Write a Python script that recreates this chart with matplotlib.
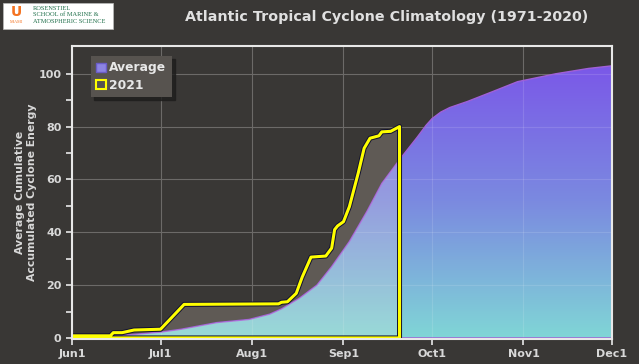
import numpy as np
import pandas as pd
import matplotlib
matplotlib.use("Agg")
import matplotlib.pyplot as plt
import matplotlib.dates as mdates
import matplotlib.patheffects as pe
from matplotlib.patches import Polygon, Patch, Rectangle
from matplotlib.colors import LinearSegmentedColormap

# Climatological average cumulative ACE (1971-2020)
avg_dates = ['06-01', '06-14', '07-01', '07-08', '07-20', '07-31', '08-07', '08-11',
             '08-17', '08-23', '08-28', '09-03', '09-09', '09-14', '09-20', '09-26',
             '09-29', '10-01', '10-04', '10-07', '10-13', '10-21', '10-30', '11-12',
             '11-23', '12-01']
avg_ace = [0.3, 0.6, 2.2, 3.3, 5.8, 7.0, 9.0, 11.0,
           15.0, 20.0, 27.0, 36.5, 48.0, 58.5, 67.5, 76.0,
           80.5, 83.0, 85.5, 87.2, 89.5, 93.0, 97.0, 100.0,
           102.0, 103.0]

# 2021 cumulative ACE
y21_dates = ['06-01', '06-14', '06-15', '06-18', '06-22', '07-01', '07-04', '07-09',
             '08-10', '08-11', '08-13', '08-16', '08-18', '08-21', '08-26', '08-28',
             '08-29', '08-30', '09-01', '09-03', '09-06', '09-08', '09-10', '09-13',
             '09-14', '09-17', '09-20']
y21_ace = [0.8, 0.8, 2.0, 2.0, 3.0, 3.3, 6.8, 12.7,
           12.9, 13.5, 13.7, 16.9, 23.0, 30.6, 31.0, 34.0,
           41.0, 42.4, 44.0, 49.7, 62.4, 71.8, 75.6, 76.5,
           78.0, 78.2, 80.0]

tick_dates = ['06-01', '07-01', '08-01', '09-01', '10-01', '11-01', '12-01']
tick_labels = ['Jun1', 'Jul1', 'Aug1', 'Sep1', 'Oct1', 'Nov1', 'Dec1']


def to_num(days):
    return mdates.date2num(pd.to_datetime(['2021-' + d for d in days]))


ax_x = to_num(avg_dates)
y21_x = to_num(y21_dates)
ticks_x = to_num(tick_dates)

bg = '#393735'
fig = plt.figure(figsize=(6.39, 3.64), dpi=100, facecolor=bg)
ax = fig.add_axes([72 / 639, 1 - 339 / 364, 540 / 639, 293 / 364])
ax.set_facecolor(bg)
ax.set_xlim(ticks_x[0], ticks_x[-1])
ax.set_ylim(-0.4, 110.5)

# grid below everything
ax.set_axisbelow(True)
ax.grid(True, color='#6c6a68', linewidth=0.8)

# polygons
avg_poly = np.column_stack([np.r_[ax_x, ax_x[-1], ax_x[0]], np.r_[avg_ace, 0, 0]])
y21_poly = np.column_stack([np.r_[y21_x, y21_x[-1], y21_x[0]], np.r_[y21_ace, 0, 0]])

# 2021 grey fill
ax.add_patch(Polygon(y21_poly, closed=True, facecolor='#5f5a55', edgecolor='none', zorder=1))

# average gradient area
avg_patch = Polygon(avg_poly, closed=True, facecolor='none', edgecolor='#a060d8',
                    linewidth=1.0, zorder=2.1)
ax.add_patch(avg_patch)
cmap = LinearSegmentedColormap.from_list('ace', ['#80d6d6', '#7b8ae0', '#7a58e8'])
grad = np.linspace(0, 1, 256).reshape(-1, 1)
im = ax.imshow(grad, cmap=cmap, origin='lower', aspect='auto',
               extent=[ticks_x[0], ticks_x[-1], 0, 103], zorder=2)
im.set_clip_path(avg_patch)

# faint grid lines over the average area
for yv in range(20, 101, 20):
    l = ax.axhline(yv, color='white', alpha=0.12, linewidth=0.8, zorder=2.05)
    l.set_clip_path(avg_patch)
for xv in ticks_x[1:-1]:
    l = ax.axvline(xv, color='white', alpha=0.12, linewidth=0.8, zorder=2.05)
    l.set_clip_path(avg_patch)

# light overlay where 2021 covers the average
ov = Polygon(y21_poly, closed=True, facecolor='#ffeedd', alpha=0.2, edgecolor='none', zorder=2.2)
ax.add_patch(ov)
ov.set_clip_path(avg_patch)

# 2021 outline
ax.plot(y21_poly[:, 0], y21_poly[:, 1], color='#ffff00', linewidth=2.2, zorder=3,
        solid_joinstyle='round',
        path_effects=[pe.Stroke(linewidth=3.6, foreground='#101030'), pe.Normal()])

# axes styling
for s in ax.spines.values():
    s.set_color('#e8e8e8')
    s.set_linewidth(1.5)
    s.set_zorder(4)
ax.set_xticks(ticks_x)
ax.set_xticklabels(tick_labels)
ax.set_yticks(range(0, 101, 20))
ax.set_yticks(range(10, 101, 20), minor=True)
ax.tick_params(axis='both', colors='#e8e8e8', labelcolor='#d8d8d8', labelsize=8,
               length=4, width=1.2)
ax.tick_params(axis='y', which='minor', colors='#e8e8e8', length=4, width=1.2)
for lab in ax.get_xticklabels() + ax.get_yticklabels():
    lab.set_fontweight('bold')
ax.set_ylabel('Average Cumulative\nAccumulated Cyclone Energy', color='#d8d8d8',
              fontsize=7.8, fontweight='bold', labelpad=1, linespacing=1.25)

# legend
handles = [Patch(facecolor='#8c84e4', edgecolor='#6a5cc8', label='Average'),
           Patch(facecolor='#555350', edgecolor='#ffff00', linewidth=1.5, label='2021')]
leg = ax.legend(handles=handles, loc='upper left', bbox_to_anchor=(0.035, 0.966),
                borderaxespad=0,
                facecolor='#57534f', edgecolor='none', framealpha=1, fancybox=False,
                shadow={'color': '#1e1d1c', 'alpha': 0.8}, fontsize=8.8,
                handlelength=0.75, handleheight=0.75, handletextpad=0.3,
                borderpad=0.45, labelspacing=0.35)
for t in leg.get_texts():
    t.set_color('#e8e8e8')
    t.set_fontweight('bold')

# title
fig.text(387 / 639, 1 - 17 / 364, 'Atlantic Tropical Cyclone Climatology (1971-2020)',
         ha='center', va='center', color='#e0e0e0', fontsize=10.3, fontweight='bold')

# logo box
fig.patches.append(Rectangle((3 / 639, 1 - 29 / 364), 110 / 639, 26 / 364,
                             transform=fig.transFigure, facecolor='white',
                             edgecolor='#bbbbbb', linewidth=0.5))
fig.text(16 / 639, 1 - 12 / 364, 'U', ha='center', va='center', color='#f47321',
         fontsize=10, fontweight='bold', family='DejaVu Sans')
fig.text(16 / 639, 1 - 22 / 364, 'MIAMI', ha='center', va='center', color='#f47321',
         fontsize=3, family='Liberation Serif')
for i, line in enumerate(['ROSENSTIEL', 'SCHOOL of MARINE &', 'ATMOSPHERIC SCIENCE']):
    fig.text(33 / 639, 1 - (8 + 6.8 * i) / 364, line, ha='left', va='center',
             color='#1f6f4a', fontsize=4.6, family='Liberation Serif')

fig.savefig('out.png', dpi=100, facecolor=bg)
